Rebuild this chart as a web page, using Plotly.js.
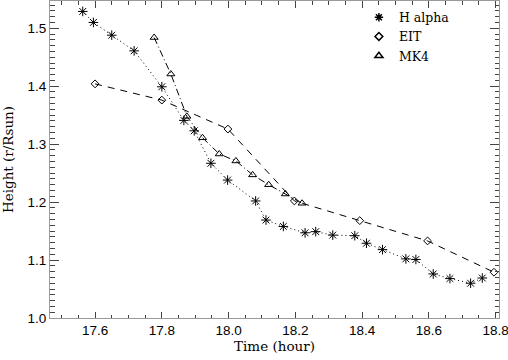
<!DOCTYPE html>
<html>
<head>
<meta charset="utf-8">
<script src="https://cdn.plot.ly/plotly-3.0.1.min.js"></script>
<style>html,body{margin:0;padding:0;background:#fff;}#chart{width:508px;height:360px;}</style>
</head>
<body>
<div id="chart"></div>
<script>
// H alpha
const haTime = [17.563,17.595,17.650,17.717,17.800,17.866,17.897,17.947,17.997,18.081,18.112,18.164,18.229,18.261,18.312,18.378,18.413,18.461,18.531,18.561,18.613,18.663,18.725,18.760];
const haHeight = [1.529,1.510,1.488,1.461,1.399,1.341,1.323,1.267,1.238,1.202,1.169,1.158,1.147,1.149,1.143,1.142,1.129,1.118,1.102,1.101,1.076,1.068,1.060,1.069];
// EIT
const eitTime = [17.600,17.800,17.998,18.197,18.393,18.596,18.795];
const eitHeight = [1.404,1.376,1.326,1.202,1.168,1.133,1.079];
// MK4
const mk4Time = [17.777,17.827,17.875,17.922,17.972,18.022,18.072,18.120,18.170,18.220];
const mk4Height = [1.484,1.421,1.348,1.311,1.283,1.271,1.247,1.230,1.214,1.198];

const seriesNames = ["H alpha","EIT","MK4"];
const xTickVals = [17.6,17.8,18.0,18.2,18.4,18.6,18.8];
const xTickText = ["17.6","17.8","18.0","18.2","18.4","18.6","18.8"];
const yTickVals = [1.0,1.1,1.2,1.3,1.4,1.5];
const yTickText = ["1.0","1.1","1.2","1.3","1.4","1.5"];

const ink = "#000";
const traces = [
  {x: haTime, y: haHeight, mode: "lines+markers", showlegend: false,
   line: {color: ink, width: 1, dash: "1px,3px"},
   marker: {symbol: "asterisk-open", size: 8, color: ink, line: {color: ink, width: 1}}},
  {x: eitTime, y: eitHeight, mode: "lines+markers", showlegend: false,
   line: {color: ink, width: 1, dash: "7px,6px"},
   marker: {symbol: "diamond-open", size: 6, color: ink, line: {color: ink, width: 1}}},
  {x: mk4Time, y: mk4Height, mode: "lines+markers", showlegend: false,
   line: {color: ink, width: 1, dash: "7px,3px,1px,3px"},
   marker: {symbol: "triangle-up-open", size: 7, color: ink, line: {color: ink, width: 1}}},
  {x: [null], y: [null], mode: "markers", name: seriesNames[0],
   marker: {symbol: "asterisk-open", size: 7, color: ink, line: {color: ink, width: 1.5}}},
  {x: [null], y: [null], mode: "markers", name: seriesNames[1],
   marker: {symbol: "diamond-open", size: 6, color: ink, line: {color: ink, width: 1.5}}},
  {x: [null], y: [null], mode: "markers", name: seriesNames[2],
   marker: {symbol: "triangle-up-open", size: 7, color: ink, line: {color: ink, width: 1.5}}}
];

const tickFont = {family: "Liberation Sans, Arial, sans-serif", size: 13.5, color: "#000"};
const titleFont = {family: "DejaVu Serif, serif", size: 13.5, color: "#000"};

const layout = {
  width: 508, height: 360,
  margin: {l: 50, r: 9, t: 1, b: 41.5, pad: 0},
  paper_bgcolor: "#fff", plot_bgcolor: "#fff",
  showlegend: true,
  legend: {x: 0.688, y: 0.995, xanchor: "left", yanchor: "top", bgcolor: "rgba(0,0,0,0)",
           font: {family: "DejaVu Serif, serif", size: 12.5, color: "#000"},
           tracegroupgap: 0, itemwidth: 30},
  xaxis: {
    range: [17.465, 18.81], tickvals: xTickVals, ticktext: xTickText,
    ticklabeloverflow: "allow",
    showgrid: false, zeroline: false, showline: true, linecolor: "#999", linewidth: 1,
    mirror: "ticks", ticks: "inside", ticklen: 6.5, tickcolor: "#444", tickwidth: 1,
    minor: {dtick: 0.05, tick0: 17.6, ticks: "inside", ticklen: 3.5, tickcolor: "#444", tickwidth: 1, showgrid: false},
    tickfont: tickFont,
    title: {text: "Time (hour)", font: titleFont, standoff: 0}
  },
  yaxis: {
    range: [1.0, 1.547], tickvals: yTickVals, ticktext: yTickText,
    ticklabeloverflow: "allow",
    showgrid: false, zeroline: false, showline: true, linecolor: "#999", linewidth: 1,
    mirror: "ticks", ticks: "inside", ticklen: 9, tickcolor: "#444", tickwidth: 1,
    minor: {dtick: 0.01, tick0: 1.0, ticks: "inside", ticklen: 4.5, tickcolor: "#444", tickwidth: 1, showgrid: false},
    tickfont: tickFont,
    title: {text: "Height (r/Rsun)", font: titleFont, standoff: 10}
  }
};

Plotly.newPlot("chart", traces, layout, {staticPlot: true, displayModeBar: false});
</script>
</body>
</html>
